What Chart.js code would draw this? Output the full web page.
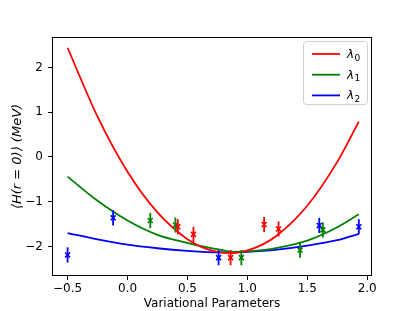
<!DOCTYPE html>
<html>
<head>
<meta charset="utf-8">
<script src="https://cdn.jsdelivr.net/npm/chart.js@4"></script>
<style>
html, body { margin: 0; padding: 0; background: #fff; }
</style>
</head>
<body>
<canvas id="chart" width="415" height="311"></canvas>
<script>
// fitted curves
const curveX = [-0.5, -0.25, 0, 0.25, 0.5, 0.625, 0.75, 0.875, 1.0, 1.125, 1.25, 1.5, 1.75, 1.93];
const lambda0Fit = [2.44, 0.90, -0.33, -1.24, -1.84, -2.02, -2.12, -2.15, -2.09, -1.96, -1.75, -1.09, -0.11, 0.79];
const lambda1Fit = [-0.44, -0.98, -1.42, -1.74, -1.92, -2.00, -2.06, -2.12, -2.11, -2.08, -2.03, -1.87, -1.57, -1.28];
const lambda2Fit = [-1.70, -1.84, -1.96, -2.04, -2.10, -2.12, -2.13, -2.13, -2.12, -2.10, -2.07, -1.98, -1.86, -1.72];

// measured points (with error bars)
const lambda0X = [0.42, 0.55, 0.86, 1.14, 1.26];
const lambda0Y = [-1.56, -1.73, -2.25, -1.51, -1.61];
const lambda1X = [0.19, 0.40, 0.95, 1.44, 1.63];
const lambda1Y = [-1.42, -1.52, -2.25, -2.08, -1.63];
const lambda2X = [-0.5, -0.12, 0.76, 1.60, 1.93];
const lambda2Y = [-2.19, -1.36, -2.25, -1.53, -1.56];
const errY = 0.17;

const xTicks = [-0.5, 0, 0.5, 1, 1.5, 2];
const yTicks = [-2, -1, 0, 1, 2];
const seriesNames = ['0', '1', '2'];
const colors = ['#ff0000', '#008000', '#0000ff'];

const fitSet = (ys, color) => ({
    data: curveX.map((x, i) => ({ x: x, y: ys[i] })),
    showLine: true,
    borderColor: color,
    borderWidth: 1.8,
    pointRadius: 0,
    cubicInterpolationMode: 'monotone',
    fill: false
});

const pointSet = (xs, ys, color) => ({
    data: xs.map((x, i) => ({ x: x, y: ys[i] })),
    showLine: false,
    pointStyle: 'crossRot',
    pointRadius: 3.5,
    borderColor: color,
    backgroundColor: color,
    borderWidth: 1.6,
    errorBar: errY
});

// vertical error bars
const errorBars = {
    id: 'errorBars',
    afterDatasetsDraw(chart) {
        const ctx = chart.ctx;
        const x = chart.scales.x, y = chart.scales.y;
        ctx.save();
        chart.data.datasets.forEach(ds => {
            if (!ds.errorBar) return;
            ctx.strokeStyle = ds.borderColor;
            ctx.lineWidth = 1.8;
            ds.data.forEach(p => {
                const px = x.getPixelForValue(p.x);
                ctx.beginPath();
                ctx.moveTo(px, y.getPixelForValue(p.y - ds.errorBar));
                ctx.lineTo(px, y.getPixelForValue(p.y + ds.errorBar));
                ctx.stroke();
            });
        });
        ctx.restore();
    }
};

// box round the axes and the legend in the corner
const frameAndLegend = {
    id: 'frameAndLegend',
    afterDraw(chart) {
        const ctx = chart.ctx;
        const a = chart.chartArea;
        ctx.save();
        ctx.strokeStyle = '#000';
        ctx.lineWidth = 1;
        ctx.strokeRect(Math.round(a.left) + 0.5, Math.round(a.top) + 0.5,
            Math.round(a.right - a.left) - 1, Math.round(a.bottom - a.top) - 1);

        const bx = a.right - 69, by = a.top + 4, bw = 64, bh = 63;
        ctx.beginPath();
        ctx.roundRect(bx + 0.5, by + 0.5, bw, bh, 3);
        ctx.fillStyle = 'rgba(255,255,255,0.8)';
        ctx.fill();
        ctx.strokeStyle = '#d0d0d0';
        ctx.stroke();

        seriesNames.forEach((n, i) => {
            const ry = by + 13 + i * 20.7;
            ctx.strokeStyle = colors[i];
            ctx.lineWidth = 1.8;
            ctx.beginPath();
            ctx.moveTo(bx + 9, ry);
            ctx.lineTo(bx + 37, ry);
            ctx.stroke();
            ctx.fillStyle = '#000';
            ctx.textBaseline = 'alphabetic';
            ctx.font = 'italic 12px "DejaVu Sans"';
            ctx.fillText('λ', bx + 44, ry + 4);
            ctx.font = '9px "DejaVu Sans"';
            ctx.fillText(n, bx + 51.5, ry + 6.5);
        });
        ctx.restore();
    }
};

const tickFont = { family: 'DejaVu Sans', size: 12 };
const minus = s => s.replace('-', '\u2212');

new Chart(document.getElementById('chart'), {
    type: 'scatter',
    data: {
        datasets: [
            fitSet(lambda0Fit, colors[0]),
            fitSet(lambda1Fit, colors[1]),
            fitSet(lambda2Fit, colors[2]),
            pointSet(lambda0X, lambda0Y, colors[0]),
            pointSet(lambda1X, lambda1Y, colors[1]),
            pointSet(lambda2X, lambda2Y, colors[2])
        ]
    },
    options: {
        responsive: false,
        animation: false,
        devicePixelRatio: 1,
        layout: { padding: { top: 37, right: 43, left: 0, bottom: 0 } },
        plugins: {
            legend: { display: false },
            tooltip: { enabled: false }
        },
        scales: {
            x: {
                type: 'linear',
                min: -0.63,
                max: 2.04,
                afterBuildTicks: s => { s.ticks = xTicks.map(v => ({ value: v })); },
                afterFit: s => { s.height = 35; },
                grid: { drawOnChartArea: false, tickLength: 4, color: '#000', tickColor: '#000' },
                border: { display: false },
                ticks: {
                    color: '#000',
                    font: tickFont,
                    padding: 2,
                    maxRotation: 0,
                    callback: v => minus(v.toFixed(1))
                },
                title: {
                    display: true,
                    text: 'Variational Parameters',
                    color: '#000',
                    font: { family: 'DejaVu Sans', size: 12 },
                    padding: { top: 0, bottom: 0 }
                }
            },
            y: {
                type: 'linear',
                min: -2.66,
                max: 2.68,
                afterBuildTicks: s => { s.ticks = yTicks.map(v => ({ value: v })); },
                afterFit: s => { s.width = 52; },
                grid: { drawOnChartArea: false, tickLength: 4, color: '#000', tickColor: '#000' },
                border: { display: false },
                ticks: {
                    color: '#000',
                    font: tickFont,
                    padding: 5,
                    callback: v => minus(String(v))
                },
                title: {
                    display: true,
                    text: '\u27E8H(r = 0)\u27E9 (MeV)',
                    color: '#000',
                    font: { family: 'DejaVu Sans', size: 13, style: 'italic' },
                    padding: { top: 10, bottom: 0 }
                }
            }
        }
    },
    plugins: [errorBars, frameAndLegend]
});
</script>
</body>
</html>
